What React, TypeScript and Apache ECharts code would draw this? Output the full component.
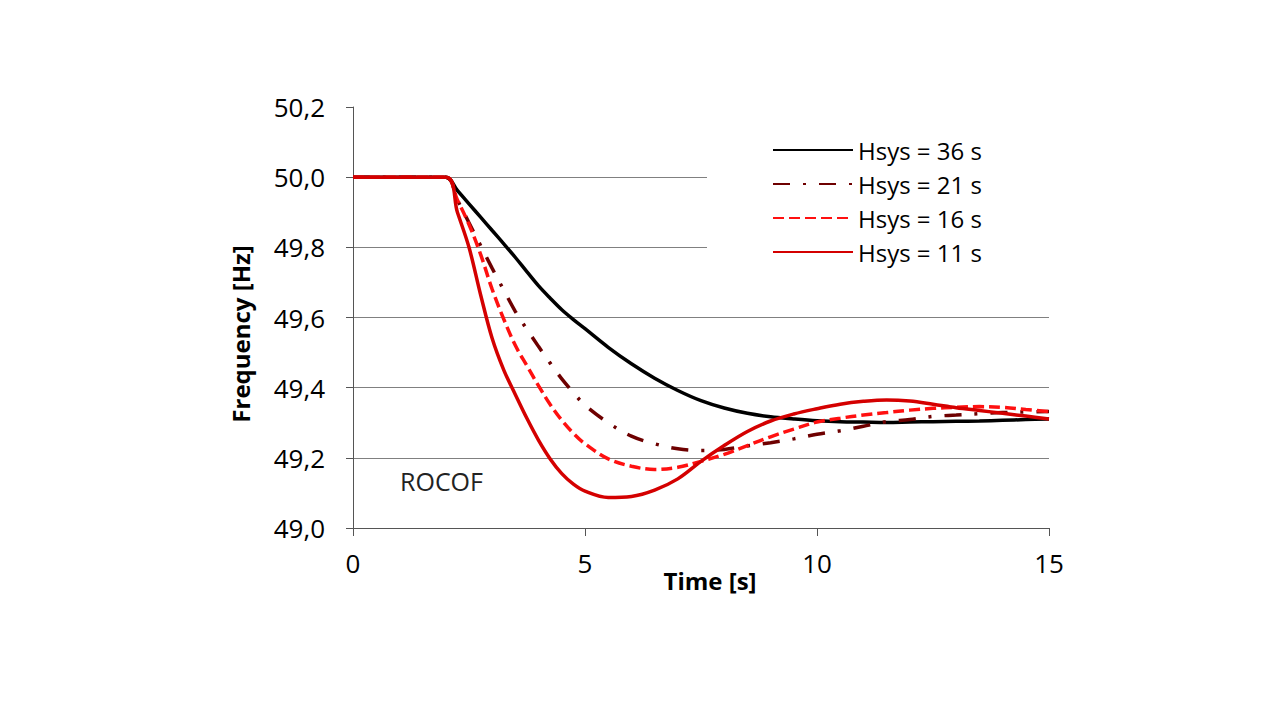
import React, { useEffect, useRef } from "react";
import * as echarts from "echarts";

// Time samples [s]
const times = [0, 2, 2.25, 2.5, 2.75, 3, 3.25, 3.5, 3.75, 4, 4.25, 4.5, 4.75, 5, 5.5, 6, 6.5, 7, 7.5, 8, 8.5, 9, 9.5, 10, 10.5, 11, 11.5, 12, 12.5, 13, 13.5, 14, 14.5, 15];

// Frequency [Hz] per system inertia
const hsys36 = [50.0, 50.0, 49.962, 49.924, 49.886, 49.848, 49.81, 49.771, 49.73, 49.69, 49.655, 49.622, 49.594, 49.568, 49.515, 49.468, 49.427, 49.392, 49.363, 49.342, 49.327, 49.317, 49.311, 49.306, 49.303, 49.302, 49.301, 49.302, 49.303, 49.304, 49.305, 49.307, 49.309, 49.311];
const hsys21 = [50.0, 50.0, 49.935, 49.87, 49.805, 49.74, 49.678, 49.617, 49.566, 49.517, 49.47, 49.425, 49.386, 49.35, 49.3, 49.262, 49.24, 49.226, 49.221, 49.224, 49.234, 49.243, 49.254, 49.267, 49.277, 49.29, 49.303, 49.309, 49.318, 49.322, 49.326, 49.329, 49.331, 49.332];
const hsys16 = [50.0, 50.0, 49.935, 49.865, 49.78, 49.68, 49.595, 49.52, 49.462, 49.405, 49.352, 49.307, 49.27, 49.24, 49.197, 49.176, 49.167, 49.173, 49.19, 49.21, 49.235, 49.26, 49.282, 49.302, 49.313, 49.322, 49.329, 49.336, 49.341, 49.344, 49.346, 49.344, 49.338, 49.332];
const hsys11 = [50.0, 50.0, 49.9, 49.8, 49.665, 49.54, 49.45, 49.38, 49.312, 49.25, 49.197, 49.155, 49.125, 49.105, 49.087, 49.09, 49.108, 49.14, 49.19, 49.235, 49.275, 49.305, 49.325, 49.34, 49.353, 49.361, 49.365, 49.362, 49.353, 49.343, 49.335, 49.327, 49.319, 49.311];

const seriesNames = ["Hsys = 36 s", "Hsys = 21 s", "Hsys = 16 s", "Hsys = 11 s"];
const seriesValues = [hsys36, hsys21, hsys16, hsys11];
const seriesColors = ["#000000", "#6e0000", "#ff1010", "#d40000"];
const seriesDash: any[] = ["solid", [17, 13, 3, 13], [11, 5], "solid"];

const xMin = 0;
const xMax = 15;
const xStep = 5;
const yMin = 49.0;
const yMax = 50.2;
const yStep = 0.2;

const FONT = "'Open Sans', 'Noto Sans', sans-serif";

export default function App() {
  const ref = useRef<HTMLDivElement>(null);

  useEffect(() => {
    if (!ref.current) return;
    const chart = echarts.init(ref.current, null, { renderer: "svg" });

    const series = seriesNames.map((name, i) => ({
      name,
      type: "line",
      data: times.map((t, k) => [t, seriesValues[i][k]]),
      symbol: "none",
      smooth: 0.35,
      lineStyle: { color: seriesColors[i], width: 3.5, type: seriesDash[i], cap: "butt" },
      itemStyle: { color: seriesColors[i] },
      z: 2 + i,
    }));

    chart.setOption({
      animation: false,
      backgroundColor: "#ffffff",
      grid: { left: 353, top: 107, width: 696, height: 421, containLabel: false },
      legend: {
        data: seriesNames,
        orient: "vertical",
        left: 707,
        top: 128,
        padding: [10, 80, 10, 65],
        backgroundColor: "#ffffff",
        itemWidth: 80,
        itemHeight: 14,
        itemGap: 10,
        itemStyle: { opacity: 0 },
        textStyle: { fontFamily: FONT, fontSize: 24, color: "#000", lineHeight: 24 },
        z: 10,
      },
      xAxis: {
        type: "value",
        min: xMin,
        max: xMax,
        interval: xStep,
        name: "Time [s]",
        nameLocation: "middle",
        nameGap: 40,
        nameMoveOverlap: false,
        nameTextStyle: { fontFamily: FONT, fontSize: 24, fontWeight: "bold", color: "#000", padding: [0, 0, 0, 18] },
        axisLine: { show: true, lineStyle: { color: "#555", width: 1 } },
        axisTick: { show: true, length: 8, lineStyle: { color: "#555" } },
        axisLabel: { fontFamily: FONT, fontSize: 26, color: "#000", margin: 22 },
        splitLine: { show: false },
      },
      yAxis: {
        type: "value",
        min: yMin,
        max: yMax,
        interval: yStep,
        axisLine: { show: true, lineStyle: { color: "#555", width: 1 } },
        axisTick: { show: true, length: 7, lineStyle: { color: "#555" } },
        axisLabel: {
          fontFamily: FONT,
          fontSize: 26,
          color: "#000",
          margin: 28,
          formatter: (v: number) => v.toFixed(1).replace(".", ","),
        },
        splitLine: { show: true, showMinLine: false, showMaxLine: false, lineStyle: { color: "#808080", width: 1 } },
      },
      graphic: [
        {
          type: "text",
          x: 240,
          y: 334,
          rotation: Math.PI / 2,
          style: {
            text: "Frequency [Hz]",
            font: `bold 24px ${FONT}`,
            fill: "#000",
            textAlign: "center",
            textVerticalAlign: "middle",
          },
        },
        {
          type: "text",
          x: 400,
          y: 481,
          style: {
            text: "ROCOF",
            font: `25px ${FONT}`,
            fill: "#222",
            textAlign: "left",
            textVerticalAlign: "middle",
          },
        },
      ],
      series,
    });

    return () => chart.dispose();
  }, []);

  return (
    <div
      ref={ref}
      style={{ position: "fixed", left: 0, top: 0, width: 1272, height: 716, background: "#fff" }}
    />
  );
}
